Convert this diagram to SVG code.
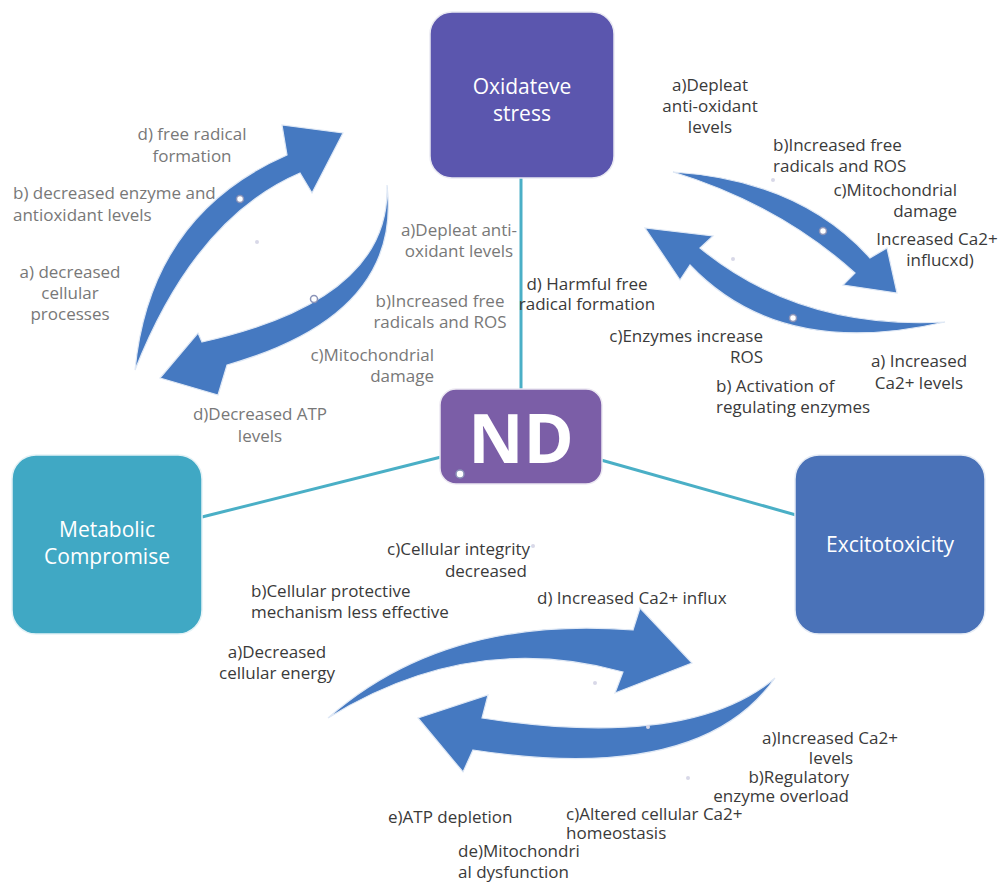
<svg xmlns="http://www.w3.org/2000/svg" width="1000" height="882" viewBox="0 0 1000 882">
<style>
.lbl{font-family:"Open Sans","Liberation Sans",sans-serif;font-size:17px;fill:#3a3a3a}
.g{fill:#787878}
.mid{text-anchor:middle}
.end{text-anchor:end}
.node{font-family:"Open Sans","Liberation Sans",sans-serif;font-size:21px;fill:#ffffff;text-anchor:middle}
.arrow{fill:#4579c1;stroke:#dfe8f5;stroke-width:1.2}
.conn{stroke:#4aafc6;stroke-width:3;fill:none}
.dot{fill:#ffffff;stroke:#8a93b8;stroke-width:1.5}
.fdot{fill:#d8d8e8}
</style>
<rect width="1000" height="882" fill="#ffffff"/>

<g id="connectors">
<line class="conn" x1="521" y1="178" x2="521" y2="390"/>
<line class="conn" x1="441" y1="457" x2="202" y2="517"/>
<line class="conn" x1="601" y1="460" x2="796" y2="515"/>
</g>

<g id="arrows">
<path class="arrow" d="M135,370 Q150,215 287,155 L282,125 L343,133 L312,193 L300,173 Q195,218 135,370 Z"/>
<path class="arrow" d="M387,185 Q391,300 202,342 L198,333 L160,378 L218,395 L227,365 Q403,315 387,185 Z"/>
<path class="arrow" d="M673,172 Q800,180 870,258 L887,248 L897,293 L843,285 L855,273 Q780,205 673,172 Z"/>
<path class="arrow" d="M945,322 Q800,330 700,248 L713,236 L645,228 L680,280 L690,265 Q780,360 945,322 Z"/>
<path class="arrow" d="M328,718 Q445,615 633,630 L640,608 L692,663 L615,693 L623,672 Q470,630 328,718 Z"/>
<path class="arrow" d="M775,678 Q690,750 482,718 L488,695 L418,718 L463,772 L473,750 Q700,785 775,678 Z"/>
<circle class="dot" cx="240" cy="199" r="3.5"/>
<circle class="dot" cx="314" cy="299" r="3.5"/>
<circle class="dot" cx="823" cy="231" r="3.5"/>
<circle class="dot" cx="793" cy="318" r="3.5"/>
<circle class="fdot" cx="257" cy="242" r="2"/>
<circle class="fdot" cx="773" cy="180" r="2"/>
<circle class="fdot" cx="733" cy="259" r="2"/>
<circle class="fdot" cx="595" cy="683" r="2"/>
<circle class="fdot" cx="648" cy="727" r="2"/>
<circle class="fdot" cx="688" cy="778" r="2"/>
<circle class="fdot" cx="533" cy="546" r="2"/>
</g>

<g id="node-oxidative">
<rect x="430" y="12" width="184" height="166" rx="22" fill="#5b56ae" stroke="#e9e9f2" stroke-width="1.5"/>
<text class="node" x="522" y="94">Oxidateve</text>
<text class="node" x="522" y="121">stress</text>
</g>

<g id="node-nd">
<rect x="440" y="389" width="162" height="95" rx="16" fill="#7b5ea7" stroke="#ece8f2" stroke-width="1.5"/>
<text x="521" y="463" font-family="'Open Sans','Liberation Sans',sans-serif" font-size="68" font-weight="bold" fill="#ffffff" text-anchor="middle">ND</text>
<circle class="dot" cx="460" cy="474" r="4"/>
</g>

<g id="node-metabolic">
<rect x="12" y="455" width="190" height="179" rx="24" fill="#40a8c4" stroke="#e4f2f6" stroke-width="1.5"/>
<text class="node" x="107" y="537">Metabolic</text>
<text class="node" x="107" y="564">Compromise</text>
</g>

<g id="node-excitotoxicity">
<rect x="795" y="455" width="190" height="179" rx="24" fill="#4a72b8" stroke="#e6ecf5" stroke-width="1.5"/>
<text class="node" x="890" y="552">Excitotoxicity</text>
</g>

<g id="labels">
<text class="lbl g mid" x="192" y="140">d) free radical</text>
<text class="lbl g mid" x="192" y="162">formation</text>
<text class="lbl g" x="13" y="199">b) decreased enzyme and</text>
<text class="lbl g" x="13" y="221">antioxidant levels</text>
<text class="lbl g mid" x="70" y="278">a) decreased</text>
<text class="lbl g mid" x="70" y="299">cellular</text>
<text class="lbl g mid" x="70" y="320">processes</text>
<text class="lbl g mid" x="260" y="420">d)Decreased ATP</text>
<text class="lbl g mid" x="260" y="442">levels</text>

<text class="lbl g mid" x="459" y="236">a)Depleat anti-</text>
<text class="lbl g mid" x="459" y="257">oxidant levels</text>
<text class="lbl g mid" x="440" y="307">b)Increased free</text>
<text class="lbl g mid" x="440" y="328">radicals and ROS</text>
<text class="lbl g end" x="434" y="361">c)Mitochondrial</text>
<text class="lbl g end" x="434" y="382">damage</text>

<text class="lbl mid" x="587" y="290">d) Harmful free</text>
<text class="lbl mid" x="587" y="310">radical formation</text>

<text class="lbl mid" x="710" y="91">a)Depleat</text>
<text class="lbl mid" x="710" y="112">anti-oxidant</text>
<text class="lbl mid" x="710" y="133">levels</text>
<text class="lbl" x="773" y="151">b)Increased free</text>
<text class="lbl" x="773" y="172">radicals and ROS</text>
<text class="lbl end" x="957" y="196">c)Mitochondrial</text>
<text class="lbl end" x="957" y="217">damage</text>
<text class="lbl mid" x="937" y="245">Increased Ca2+</text>
<text class="lbl mid" x="940" y="266">influcxd)</text>
<text class="lbl end" x="763" y="342">c)Enzymes increase</text>
<text class="lbl end" x="763" y="363">ROS</text>
<text class="lbl mid" x="919" y="367">a) Increased</text>
<text class="lbl mid" x="919" y="389">Ca2+ levels</text>
<text class="lbl" x="716" y="392">b) Activation of</text>
<text class="lbl" x="716" y="413">regulating enzymes</text>

<text class="lbl end" x="530" y="555">c)Cellular integrity</text>
<text class="lbl end" x="527" y="577">decreased</text>
<text class="lbl" x="251" y="597">b)Cellular protective</text>
<text class="lbl" x="251" y="618">mechanism less effective</text>
<text class="lbl" x="537" y="604">d) Increased Ca2+ influx</text>
<text class="lbl mid" x="277" y="658">a)Decreased</text>
<text class="lbl mid" x="277" y="679">cellular energy</text>

<text class="lbl mid" x="830" y="744">a)Increased Ca2+</text>
<text class="lbl mid" x="831" y="764">levels</text>
<text class="lbl end" x="849" y="783">b)Regulatory</text>
<text class="lbl end" x="849" y="802">enzyme overload</text>
<text class="lbl" x="566" y="820">c)Altered cellular Ca2+</text>
<text class="lbl" x="566" y="839">homeostasis</text>
<text class="lbl" x="388" y="823">e)ATP depletion</text>
<text class="lbl" x="458" y="857">de)Mitochondri</text>
<text class="lbl" x="458" y="878">al dysfunction</text>
</g>
</svg>
